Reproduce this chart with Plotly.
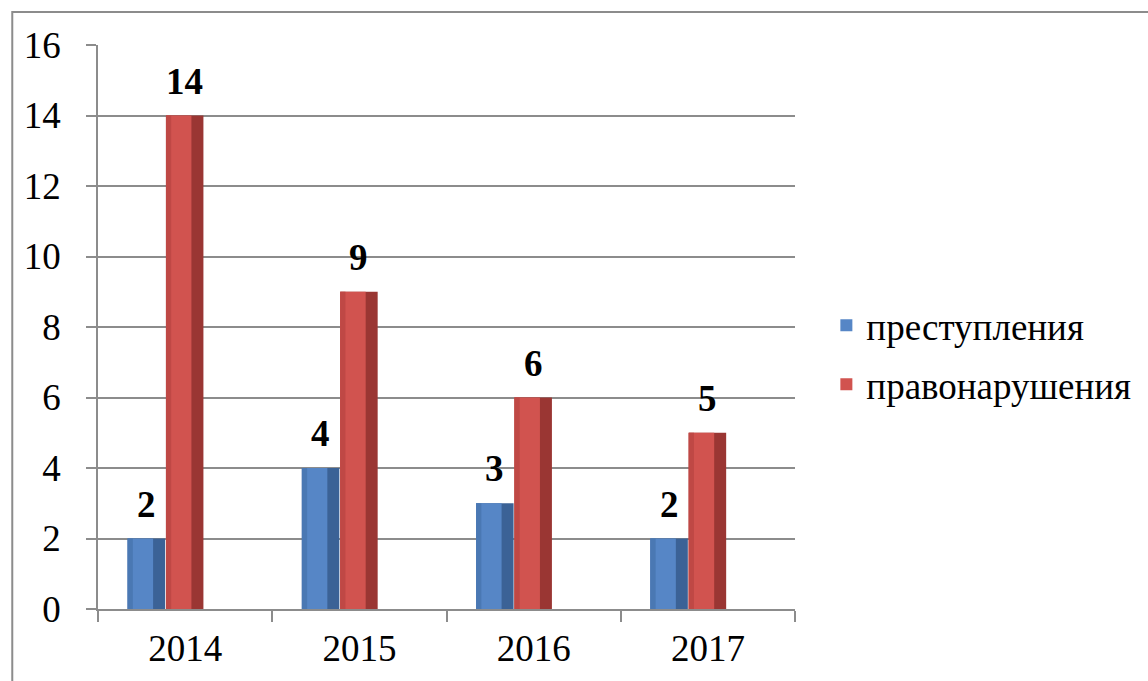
import plotly.graph_objects as go

years = ["2014", "2015", "2016", "2017"]
crimes = [2, 4, 3, 2]          # преступления
offences = [14, 9, 6, 5]       # правонарушения
series_names = ["преступления", "правонарушения"]

FONT = "'Liberation Serif', 'Times New Roman', Times, serif"
GRID = "#8c8c8c"

BAR_W = 0.215
OFFSETS = [-0.33, -0.11]   # left edge offset of each series within a category

palettes = [
    # dark (right side), main, left strip
    ("#3b6296", "#5686c6", "#4a78b3"),
    ("#9a3633", "#d1534f", "#bf4845"),
]

fig = go.Figure()
for si, (name, vals) in enumerate(zip(series_names, [crimes, offences])):
    dark, main, left = palettes[si]
    off = OFFSETS[si]
    fig.add_trace(go.Bar(x=years, y=vals, name=name, offset=off, width=BAR_W,
                         marker=dict(color=dark, line=dict(width=0)),
                         showlegend=False, hoverinfo="skip"))
    fig.add_trace(go.Bar(x=years, y=vals, name=name, offset=off, width=BAR_W * 0.68,
                         marker=dict(color=main, line=dict(width=0)),
                         showlegend=True, legendgroup=name))
    fig.add_trace(go.Bar(x=years, y=vals, name=name, offset=off, width=BAR_W * 0.14,
                         marker=dict(color=left, line=dict(width=0)),
                         showlegend=False, hoverinfo="skip"))
    for i, v in enumerate(vals):
        fig.add_annotation(x=i + off + BAR_W / 2, y=v, text=f"<b>{v}</b>",
                           showarrow=False, yanchor="bottom", yshift=12,
                           font=dict(family=FONT, size=37, color="black"))

fig.add_shape(type="rect", xref="paper", yref="paper",
              x0=-0.123, x1=1.6, y0=-0.3, y1=1.0585,
              line=dict(color="#8c8c8c", width=2), fillcolor="rgba(0,0,0,0)", layer="below")

fig.update_layout(
    width=1148, height=681,
    margin=dict(l=98, r=351, t=45, b=72),
    paper_bgcolor="white", plot_bgcolor="white",
    barmode="overlay",
    font=dict(family=FONT, size=36, color="black"),
    showlegend=True,
    legend=dict(x=1.045, y=0.45, xanchor="left", yanchor="middle",
                font=dict(family=FONT, size=37), tracegroupgap=8,
                traceorder="grouped", itemwidth=30),
    xaxis=dict(type="category", categoryorder="array", categoryarray=years,
               range=[-0.5, 3.5], showgrid=False, showline=True, linecolor=GRID, linewidth=1.5,
               ticks="outside", tickson="boundaries", ticklen=11, tickcolor=GRID, tickwidth=1.5,
               tickfont=dict(family=FONT, size=37), ticklabelstandoff=6),
    yaxis=dict(range=[0, 16], dtick=2, showgrid=True, gridcolor=GRID, gridwidth=1.5,
               showline=True, linecolor=GRID, linewidth=1.5, zeroline=False,
               ticks="outside", ticklen=10, tickcolor=GRID, tickwidth=1.5,
               tickfont=dict(family=FONT, size=37), ticklabelstandoff=18),
)

fig.write_html("out.html", config={"displayModeBar": False},
               post_script="document.body.style.margin='0';")
